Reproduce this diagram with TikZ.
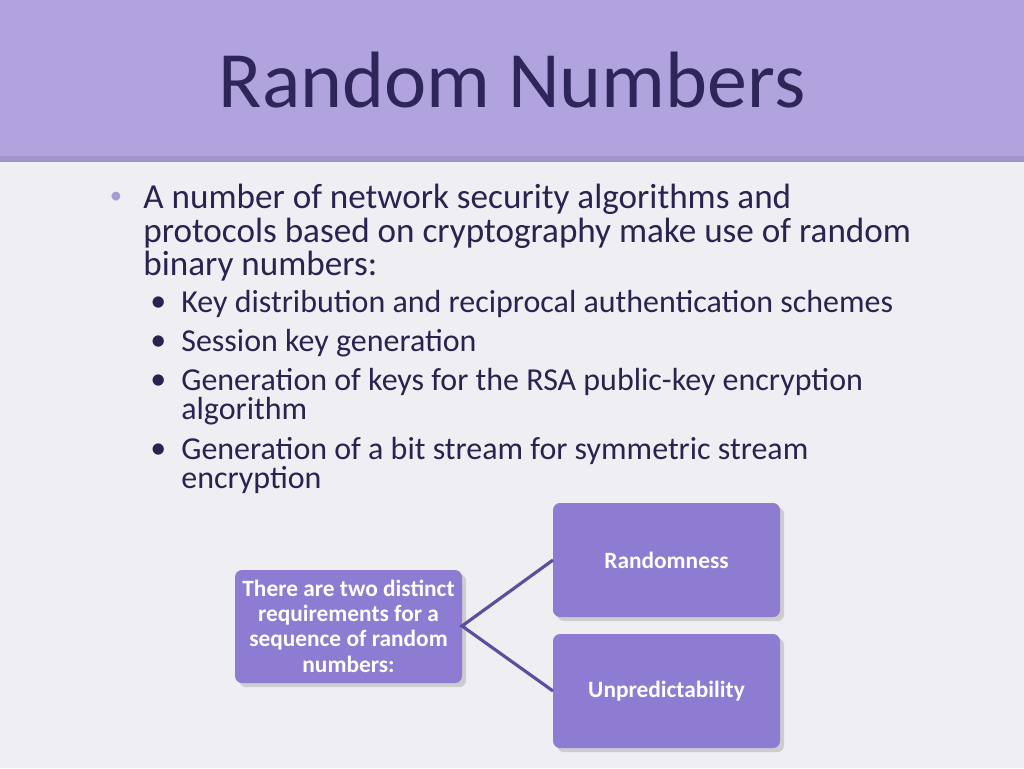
\documentclass[tikz,border=0pt]{standalone}
\usepackage{fontspec}
\setmainfont{Carlito}
\usetikzlibrary{shadows}
\definecolor{bg}{HTML}{EFEEF2}
\definecolor{band}{HTML}{B1A3DE}
\definecolor{bandline}{HTML}{A193CC}
\definecolor{titlec}{HTML}{2E2558}
\definecolor{txt}{HTML}{2A2350}
\definecolor{boxc}{HTML}{8E7BD2}
\definecolor{linec}{HTML}{5E4E9E}
\definecolor{bul}{HTML}{A79BD6}
\begin{document}
\begin{tikzpicture}[x=0.02cm,y=-0.02cm,
  body/.style={anchor=west,text=txt,font=\fontsize{20}{22}\selectfont,inner sep=0},
  sub/.style={anchor=west,text=txt,font=\fontsize{18.2}{20}\selectfont,inner sep=0},
  pbox/.style={fill=boxc,rounded corners=4pt,drop shadow={opacity=0.3}},
  btxt/.style={text=white,font=\bfseries\fontsize{13.3}{14.4}\selectfont,align=center},
  conn/.style={draw=linec,line width=1.8pt}]
\fill[bg] (0,0) rectangle (1024,768);
\fill[band] (0,0) rectangle (1024,160);
\fill[bandline] (0,156) rectangle (1024,162);
\node[text=titlec,font=\fontsize{45.5}{50}\selectfont] (title) at (512,80) {Random Numbers};
\node[text=bul,font=\fontsize{14}{16}\selectfont] (b0) at (116,198) {•};
\node[body] (l1) at (143,199) {A number of network security algorithms and};
\node[body] (l2) at (143,233) {protocols based on cryptography make use of random};
\node[body] (l3) at (143,266) {binary numbers:};
\foreach \y/\t [count=\i] in {304/Key distribution and reciprocal authentication schemes,343/Session key generation,382/Generation of keys for the RSA public-key encryption,451/Generation of a bit stream for symmetric stream}{
  \node[sub] (s\i) at (181,\y) {\t};
  \node[sub] (sb\i) at (150,\y) {•};
}
\node[sub] (s3b) at (181,411) {algorithm};
\node[sub] (s4b) at (181,480) {encryption};
\path[pbox] (235,570) rectangle (462,683);
\node[btxt] (L) at (348.5,626) {There are two distinct\\requirements for a\\sequence of random\\numbers:};
\path[pbox] (553,503) rectangle (780,617);
\node[btxt] (R1) at (666.5,560) {Randomness};
\path[pbox] (553,634) rectangle (780,748);
\node[btxt] (R2) at (666.5,691) {Unpredictability};
\coordinate (j) at (462,626);
\coordinate (e1) at (553,560);
\coordinate (e2) at (553,691);
\draw[conn] (e1) -- (j) -- (e2);
\end{tikzpicture}
\end{document}
